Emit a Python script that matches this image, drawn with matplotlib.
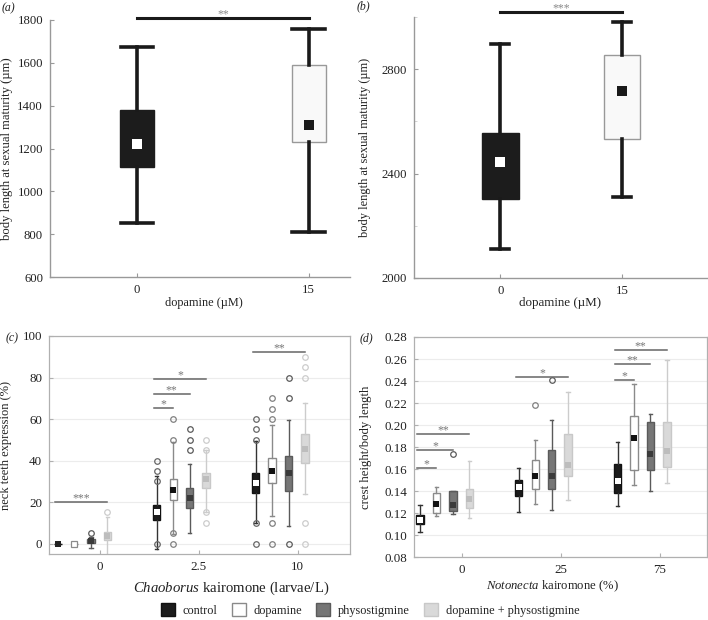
import matplotlib
matplotlib.use("Agg")
import matplotlib.pyplot as plt
from matplotlib.patches import Patch

plt.rcParams['font.family'] = ['Liberation Serif', 'DejaVu Serif']
plt.rcParams['mathtext.fontset'] = 'custom'
plt.rcParams['mathtext.it'] = 'Liberation Serif:italic'
plt.rcParams['mathtext.rm'] = 'Liberation Serif'

# ---------------- data ----------------
# panel a: body length at sexual maturity (µm), dopamine 0 vs 15 µM
a_labels = ['0', '15']
a_q1 = [1115, 1230]
a_q3 = [1378, 1590]
a_mean = [1220, 1308]
a_wlo = [850, 808]
a_whi = [1675, 1757]

# panel b
b_labels = ['0', '15']
b_q1 = [2304, 2531]
b_q3 = [2557, 2854]
b_mean = [2446, 2715]
b_wlo = [2112, 2312]
b_whi = [2896, 2982]

series = ['control', 'dopamine', 'physostigmine', 'dopamine + physostigmine']

# panel c: neck teeth expression (%), rows = series, cols = Chaoborus levels
c_groups = ['0', '2.5', '10']
c_q1 = [[0, 11.5, 24.5], [0, 21, 29], [0.3, 17, 25.5], [1.8, 27, 38.7]]
c_q3 = [[0, 18.5, 34.1], [0, 31, 41.4], [2.3, 26.8, 42.2], [5.5, 33.8, 52.8]]
c_mean = [[0, 15.2, 29.3], [0, 26, 35.1], [1.5, 22, 33.8], [3.7, 30.9, 45.6]]
c_wlo = [[0, -2.4, 9.9], [0, 4.7, 13.1], [-2, 5.2, 8.3], [-6, 15.2, 23.8]]
c_whi = [[0, 32.5, 49.2], [0, 49, 57.3], [3, 38.3, 59.4], [12.8, 45, 67.8]]
c_fliers = [[[], [40, 35, 30, 0], [60, 55, 50, 10, 0]],
            [[], [60, 50, 5, 0], [70, 65, 60, 10, 0]],
            [[5], [55, 50, 45], [80, 70, 0]],
            [[15], [50, 45, 15, 10], [90, 85, 80, 10, 0]]]
# significance: (group, target series, y, stars)
c_sig = [(0, 3, 20.2, '***'), (1, 1, 65.5, '*'), (1, 2, 72.2, '**'),
         (1, 3, 79.1, '*'), (2, 3, 92.5, '**')]

# panel d: crest height / body length, cols = Notonecta levels
d_groups = ['0', '25', '75']
d_q1 = [[0.1104, 0.1352, 0.1382], [0.1200, 0.1422, 0.1588],
        [0.1215, 0.1422, 0.1588], [0.1245, 0.1534, 0.1618]]
d_q3 = [[0.1179, 0.1504, 0.1648], [0.1386, 0.1679, 0.2079],
        [0.1397, 0.1776, 0.2030], [0.1415, 0.1915, 0.2024]]
d_mean = [[0.1140, 0.1436, 0.1488], [0.1285, 0.1536, 0.1885],
          [0.1270, 0.1536, 0.1739], [0.1331, 0.1634, 0.1760]]
d_wlo = [[0.1027, 0.1209, 0.1267], [0.1170, 0.1285, 0.1455],
         [0.1195, 0.1231, 0.1403], [0.1158, 0.1316, 0.1476]]
d_whi = [[0.1270, 0.1613, 0.1842], [0.1436, 0.1867, 0.2376],
         [0.1397, 0.2048, 0.2103], [0.1670, 0.2297, 0.2588]]
d_fliers = [[[], [], []],
            [[], [0.2182], []],
            [[0.1733], [0.2406], []],
            [[], [], []]]
d_sig = [(0, 1, 0.1613, '*'), (0, 2, 0.1776, '*'), (0, 3, 0.1915, '**'),
         (1, 3, 0.2436, '*'),
         (2, 1, 0.2413, '*'), (2, 2, 0.2552, '**'), (2, 3, 0.2680, '**')]

# ---------------- style ----------------
box_face = ['#1c1c1c', '#ffffff', '#767676', '#d9d9d9']
box_edge = ['#111111', '#8a8a8a', '#5a5a5a', '#c8c8c8']
whisk_col = ['#333333', '#8a8a8a', '#5a5a5a', '#cccccc']
flier_col = ['#666666', '#808080', '#5a5a5a', '#cccccc']
mean_col = ['#ffffff', '#111111', '#3a3a3a', '#bdbdbd']
offsets = [-0.425, -0.258, -0.092, 0.075]
spine_col = '#999999'
txt_col = '#222222'

fig = plt.figure(figsize=(7.08, 6.2), dpi=100)


def fit(t, target_px):
    """Scale a text's font size so its long side spans target_px pixels."""
    r = fig.canvas.get_renderer()
    bb = t.get_window_extent(r)
    length = max(bb.width, bb.height)
    t.set_fontsize(t.get_fontsize() * target_px / length)


def stats_list(q1, q3, mean, wlo, whi, fliers=None):
    out = []
    for i in range(len(q1)):
        out.append(dict(med=mean[i], q1=q1[i], q3=q3[i], mean=mean[i],
                        whislo=wlo[i], whishi=whi[i],
                        fliers=(fliers[i] if fliers else [])))
    return out


def stars_text(ax, x, y, s, size, color):
    ax.annotate(s, (x, y), xytext=(0, 0.5), textcoords='offset points',
                ha='center', va='baseline', fontsize=size, color=color,
                annotation_clip=False)


def big_panel(rect, q1, q3, mean, wlo, whi, labels, ylim, yticks, minor,
              width, capw, xlim, sig_y, stars, letter, letter_xy):
    ax = fig.add_axes(rect)
    st = stats_list(q1, q3, mean, wlo, whi)
    res = ax.bxp(st, positions=[1, 2], widths=width, showmeans=True,
                 patch_artist=True, showfliers=False, capwidths=capw,
                 medianprops=dict(linewidth=0),
                 whiskerprops=dict(color='#1a1a1a', linewidth=2.6),
                 capprops=dict(color='#1a1a1a', linewidth=2.6),
                 meanprops=dict(marker='s', markersize=6.5,
                                markeredgewidth=0))
    res['boxes'][0].set_facecolor('#1c1c1c')
    res['boxes'][0].set_edgecolor('#1c1c1c')
    res['boxes'][1].set_facecolor('#f9f9f9')
    res['boxes'][1].set_edgecolor('#999999')
    res['boxes'][1].set_linewidth(1.0)
    res['means'][0].set_markerfacecolor('white')
    res['means'][1].set_markerfacecolor('#1a1a1a')
    ax.set_xlim(*xlim)
    ax.set_ylim(*ylim)
    ax.set_yticks(yticks)
    ax.set_yticks(minor, minor=True)
    ax.set_xticks([1, 2])
    ax.set_xticklabels(labels)
    for s in ['top', 'right']:
        ax.spines[s].set_visible(False)
    for s in ['left', 'bottom']:
        ax.spines[s].set_color(spine_col)
        ax.spines[s].set_linewidth(1.0)
    ax.tick_params(direction='in', length=3, color=spine_col,
                   labelsize=9.2, labelcolor=txt_col, pad=5)
    ax.tick_params(which='minor', direction='in', length=2, color='#cccccc')
    ax.set_xlabel('dopamine (µM)', fontsize=9, color=txt_col)
    ax.set_ylabel('body length at sexual maturity (µm)', fontsize=9,
                  color=txt_col)
    ax.plot([1, 2], [sig_y, sig_y], color='#1a1a1a', lw=2.2, clip_on=False)
    stars_text(ax, 1.5, sig_y, stars, 8.5, '#888888')
    fig.text(letter_xy[0], letter_xy[1], letter, fontsize=8.5,
             style='italic', color=txt_col, ha='left', va='center')
    return ax


# panel a
ax_a = big_panel([50/708, 1-277/620, 300/708, 257/620],
                 a_q1, a_q3, a_mean, a_wlo, a_whi, a_labels,
                 (600, 1800), [600, 800, 1000, 1200, 1400, 1600, 1800], [],
                 0.2, 0.19, (0.494, 2.24), 1810, '**', '(a)',
                 (2/708, 1-8/620))
ax_a.xaxis.set_label_coords(0.513, -0.078)
ax_a.yaxis.set_label_coords(-0.123, 0.5)
fit(ax_a.yaxis.label, 182)
fit(ax_a.xaxis.label, 77)

# panel b
ax_b = big_panel([414/708, 1-278/620, 293/708, 261/620],
                 b_q1, b_q3, b_mean, b_wlo, b_whi, b_labels,
                 (2000, 3000), [2000, 2400, 2800], [2200, 2600, 3000],
                 0.3, 0.15, (0.29, 2.7), 3018, '***', '(b)',
                 (357/708, 1-6/620))
ax_b.xaxis.set_label_coords(0.50, -0.073)
ax_b.yaxis.set_label_coords(-0.147, 0.5)
fit(ax_b.yaxis.label, 178)
fit(ax_b.xaxis.label, 82)


def group_panel(rect, q1, q3, mean, wlo, whi, fliers, groups, ylim, yticks,
                ylabel, xlabel, sig, ytick_fmt, xlim, letter, letter_xy):
    ax = fig.add_axes(rect)
    ax.set_axisbelow(True)
    ax.yaxis.grid(True, color='#ececec', lw=0.8)
    ng = len(groups)
    all_means = []
    for s in range(4):
        st = stats_list(q1[s], q3[s], mean[s], wlo[s], whi[s], fliers[s])
        pos = [g + offsets[s] for g in range(ng)]
        res = ax.bxp(st, positions=pos, widths=0.075, showmeans=True,
                     patch_artist=True, showfliers=True, capwidths=0.035,
                     medianprops=dict(linewidth=0),
                     boxprops=dict(facecolor=box_face[s],
                                   edgecolor=box_edge[s], linewidth=1.0),
                     whiskerprops=dict(color=whisk_col[s], linewidth=1.0),
                     capprops=dict(color=whisk_col[s], linewidth=1.0),
                     flierprops=dict(marker='o', markersize=4,
                                     markerfacecolor='none',
                                     markeredgecolor=flier_col[s],
                                     markeredgewidth=0.9),
                     meanprops=dict(marker='s', markersize=4.2,
                                    markerfacecolor=mean_col[s],
                                    markeredgewidth=0))
        for m in res['means']:
            m.set_zorder(5)
        all_means.append(res['means'])
    for (g, tgt, y, stars) in sig:
        x0 = g + offsets[0] - 0.03
        x1 = g + offsets[tgt]
        ax.plot([x0, x1], [y, y], color='#666666', lw=1.1, clip_on=False)
        stars_text(ax, (x0 + x1) / 2, y, stars, 8.5, '#777777')
    ax.set_xlim(*xlim)
    ax.set_ylim(*ylim)
    ax.set_yticks(yticks)
    ax.set_yticklabels([ytick_fmt(v) for v in yticks])
    ax.set_xticks(range(ng))
    ax.set_xticklabels(groups)
    for s in ax.spines.values():
        s.set_color('#b0b0b0')
        s.set_linewidth(0.9)
    ax.tick_params(direction='in', length=3, color='#b0b0b0',
                   labelsize=9.4, labelcolor=txt_col, pad=5)
    ax.set_ylabel(ylabel, fontsize=10, color=txt_col)
    ax.set_xlabel(xlabel, fontsize=10, color=txt_col)
    fig.text(letter_xy[0], letter_xy[1], letter, fontsize=8.5,
             style='italic', color=txt_col, ha='left', va='center')
    return ax, all_means


ax_c, c_means = group_panel([49/708, 1-554/620, 301/708, 218/620],
                            c_q1, c_q3, c_mean, c_wlo, c_whi, c_fliers,
                            c_groups, (-5, 100), [0, 20, 40, 60, 80, 100],
                            'neck teeth expression (%)',
                            r'$\it{Chaoborus}$ kairomone (larvae/L)', c_sig,
                            lambda v: f'{v:g}', (-0.515, 2.53), '(c)',
                            (6/708, 1-338/620))
# at 0 larvae/L the control shows as a dark square, dopamine as an open one
c_means[0][0].set_markerfacecolor('#222222')
c_means[1][0].set_markerfacecolor('white')
c_means[1][0].set_markeredgecolor('#8a8a8a')
c_means[1][0].set_markeredgewidth(0.9)
ax_c.xaxis.set_label_coords(0.605, -0.119)
ax_c.yaxis.set_label_coords(-0.123, 0.5)
fit(ax_c.yaxis.label, 130)
fit(ax_c.xaxis.label, 196)

ax_d, d_means = group_panel([414/708, 1-557/620, 293/708, 220/620],
                            d_q1, d_q3, d_mean, d_wlo, d_whi, d_fliers,
                            d_groups, (0.08, 0.28),
                            [0.08, 0.10, 0.12, 0.14, 0.16, 0.18, 0.20, 0.22,
                             0.24, 0.26, 0.28],
                            'crest height/body length',
                            r'$\it{Notonecta}$ kairomone (%)', d_sig,
                            lambda v: f'{v:.2f}', (-0.485, 2.48), '(d)',
                            (360/708, 1-338/620))
ax_d.xaxis.set_label_coords(0.473, -0.10)
ax_d.yaxis.set_label_coords(-0.143, 0.5)
fit(ax_d.yaxis.label, 123)
fit(ax_d.xaxis.label, 132)

handles = [Patch(facecolor=box_face[i], edgecolor=box_edge[i], linewidth=1.0)
           for i in range(4)]
fig.legend(handles, series, loc='center', ncol=4, frameon=False,
           bbox_to_anchor=(370/708, 1-610/620), fontsize=8.8,
           handlelength=1.15, handleheight=1.15, handletextpad=0.6,
           columnspacing=1.2, labelcolor=txt_col)

fig.savefig('out.png', dpi=100)
